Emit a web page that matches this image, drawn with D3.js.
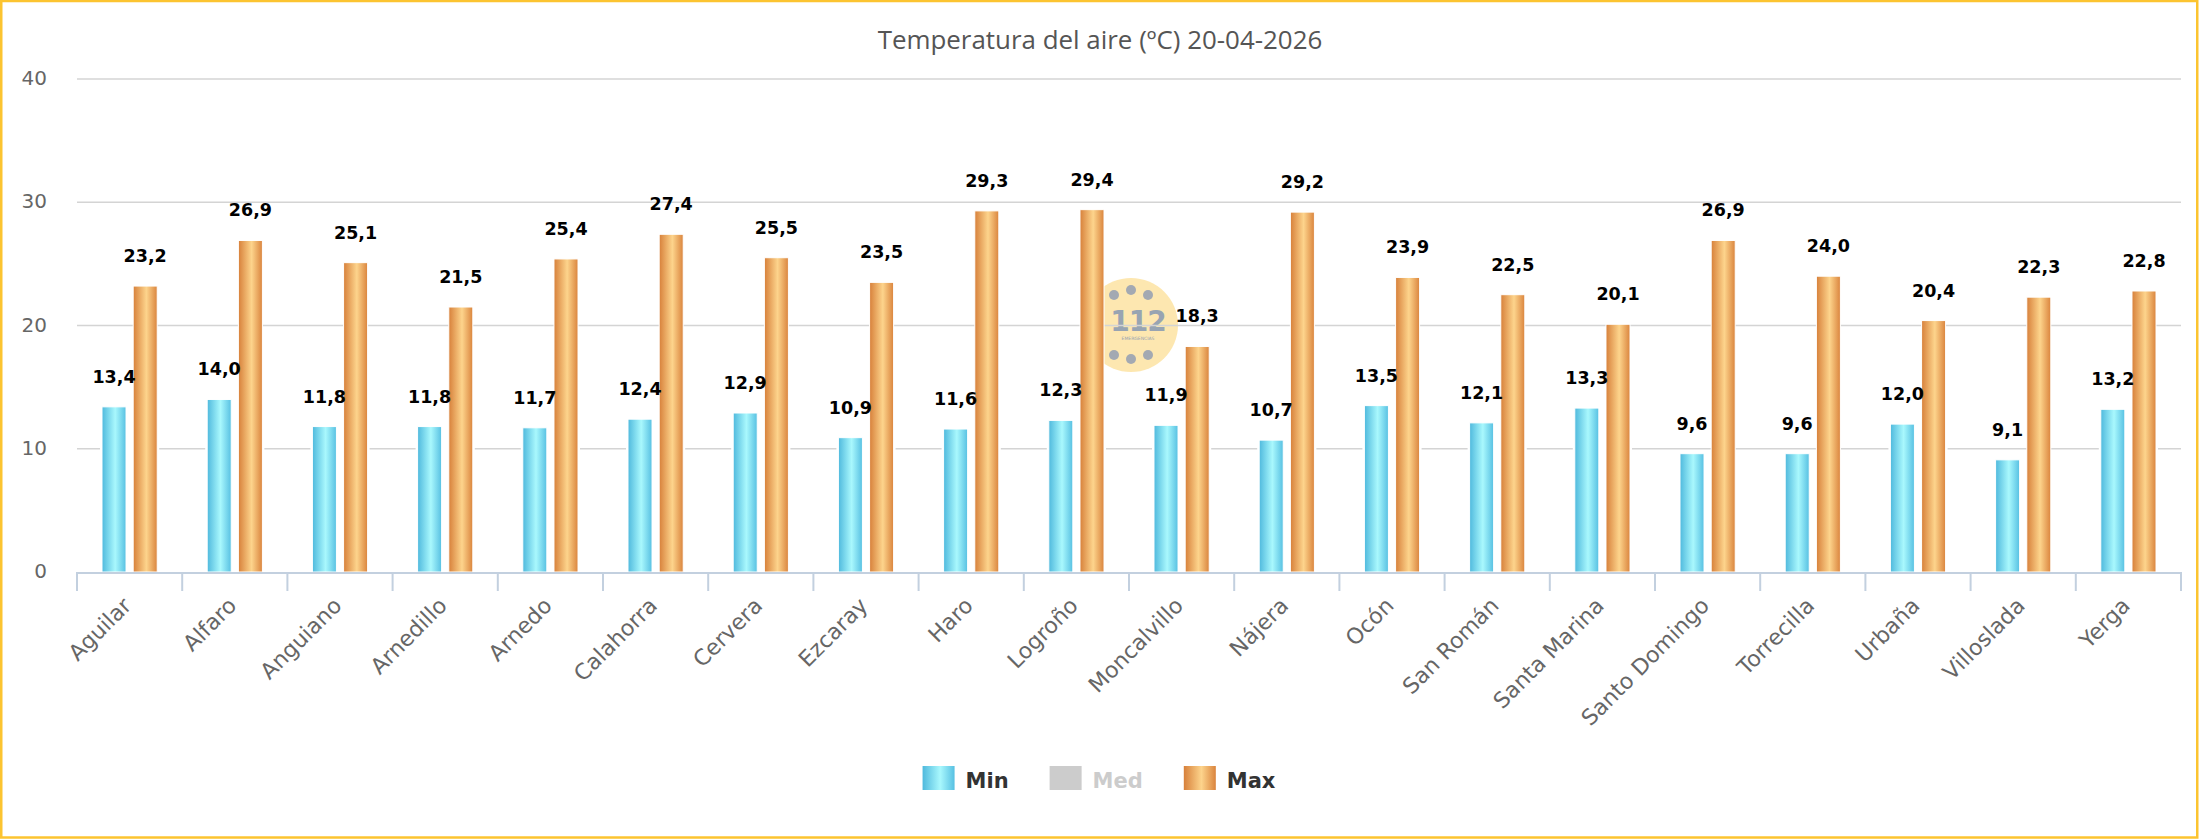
<!DOCTYPE html>
<html>
<head>
<meta charset="utf-8">
<script src="https://cdn.jsdelivr.net/npm/d3@7"></script>
<style>
  html, body { margin: 0; padding: 0; background: #fff; }
  svg { display: block; }
</style>
</head>
<body>
<svg id="chart" width="2200" height="840"></svg>
<script>
const title = "Temperatura del aire (ºC) 20-04-2026";
const categories = ["Aguilar","Alfaro","Anguiano","Arnedillo","Arnedo","Calahorra","Cervera","Ezcaray","Haro","Logroño","Moncalvillo","Nájera","Ocón","San Román","Santa Marina","Santo Domingo","Torrecilla","Urbaña","Villoslada","Yerga"];
const minValues = [13.4,14.0,11.8,11.8,11.7,12.4,12.9,10.9,11.6,12.3,11.9,10.7,13.5,12.1,13.3,9.6,9.6,12.0,9.1,13.2];
const maxValues = [23.2,26.9,25.1,21.5,25.4,27.4,25.5,23.5,29.3,29.4,18.3,29.2,23.9,22.5,20.1,26.9,24.0,20.4,22.3,22.8];
const yTicks = [0,10,20,30,40];
const legendItems = ["Min","Med","Max"];

const W = 2200, H = 840;
const plot = { left: 77, right: 2181, top: 79, bottom: 572 };
const svg = d3.select("#chart");
const fmt = v => v.toFixed(1).replace(".", ",");

// gradients
const defs = svg.append("defs");
function grad(id, stops) {
  const g = defs.append("linearGradient").attr("id", id).attr("x1","0%").attr("x2","100%").attr("y1","0%").attr("y2","0%");
  stops.forEach(s => g.append("stop").attr("offset", s[0]).attr("stop-color", s[1]));
}
grad("gMin", [["0%","#4fb9dd"],["55%","#a9f8fd"],["100%","#57c0e2"]]);
grad("gMax", [["0%","#d7803a"],["55%","#fdd48c"],["100%","#da843d"]]);

// border
svg.append("rect").attr("x",1.25).attr("y",1).attr("width",W-4).attr("height",H-3.5)
  .attr("fill","#fff").attr("stroke","#fcc430").attr("stroke-width",2.5);

// scales
const x = d3.scaleBand().domain(categories).range([plot.left, plot.right]).paddingInner(0).paddingOuter(0);
const bw = x.bandwidth();
const sub = d3.scaleBand().domain(["min","max"]).range([25, bw - 25]).paddingInner(0.23);
const y = d3.scaleLinear().domain([0,40]).range([plot.bottom, plot.top]);

// title
const tt = svg.append("text").attr("x", 1100).attr("y", 49).attr("text-anchor","middle")
  .attr("font-family","'Open Sans', sans-serif").attr("font-size", 24).attr("fill","#555")
  .text(title);
{
  const w = tt.node().getComputedTextLength();
  tt.attr("font-size", 24 * 445 / w);
}

// watermark (112 logo)
const wm = svg.append("g").attr("transform","translate(1131,325)");
wm.append("circle").attr("r",47).attr("fill","#fde3a2").attr("opacity",0.85);
[[-17,-30],[0,-35],[17,-30],[-17,30],[0,34],[17,30]].forEach(p =>
  wm.append("circle").attr("cx",p[0]).attr("cy",p[1]).attr("r",5).attr("fill","#a3a9b2"));
wm.append("text").attr("x",7).attr("y",6).attr("text-anchor","middle")
  .attr("font-family","'DejaVu Sans', sans-serif").attr("font-weight","bold").attr("font-size",28)
  .attr("fill","#98a4b2").attr("letter-spacing",-1).text("112");
wm.append("text").attr("x",7).attr("y",15).attr("text-anchor","middle")
  .attr("font-family","'DejaVu Sans', sans-serif").attr("font-size",4.5)
  .attr("fill","#98a4b2").text("EMERGENCIAS");

// gridlines
svg.append("g").selectAll("line").data(yTicks.filter(t => t > 0)).join("line")
  .attr("x1", plot.left).attr("x2", plot.right)
  .attr("y1", d => y(d)).attr("y2", d => y(d))
  .attr("stroke","#d4d4d4").attr("stroke-width",1.5);

// y labels
svg.append("g").selectAll("text").data(yTicks).join("text")
  .attr("x", 47).attr("y", d => y(d) + 6).attr("text-anchor","end")
  .attr("font-family","'DejaVu Sans', sans-serif").attr("font-size",20).attr("fill","#666")
  .text(d => d);

// data rows
const rows = categories.map((c,i) => ({ cat: c, min: minValues[i], max: maxValues[i] }));

// white backing behind bar pairs
svg.append("g").selectAll("rect").data(rows).join("rect")
  .attr("x", d => x(d.cat) + sub("min") - 2)
  .attr("width", sub("max") + sub.bandwidth() - sub("min") + 4)
  .attr("y", d => y(Math.min(d.min, d.max)) - 2)
  .attr("height", d => plot.bottom - y(Math.min(d.min, d.max)) + 2)
  .attr("fill","#fff");

const series = [["min","gMin",minValues],["max","gMax",maxValues]];
series.forEach(([key, g, vals]) => {
  const gg = svg.append("g");
  gg.selectAll("rect").data(rows).join("rect")
    .attr("x", d => x(d.cat) + sub(key))
    .attr("width", sub.bandwidth())
    .attr("y", d => y(d[key]))
    .attr("height", d => plot.bottom - y(d[key]))
    .attr("fill", `url(#${g})`)
    .attr("stroke","#fff").attr("stroke-width",1);
});

// axis line and ticks
const ax = svg.append("g");
ax.append("line").attr("x1", plot.left).attr("x2", plot.right).attr("y1", plot.bottom + 1).attr("y2", plot.bottom + 1)
  .attr("stroke","#c3d0df").attr("stroke-width",2);
const bounds = categories.map(c => x(c)).concat([plot.right]);
ax.selectAll("line.tick").data(bounds).join("line").attr("class","tick")
  .attr("x1", d => d).attr("x2", d => d).attr("y1", plot.bottom).attr("y2", plot.bottom + 19)
  .attr("stroke","#c3d0df").attr("stroke-width",2);

// x labels
svg.append("g").selectAll("text").data(categories).join("text")
  .attr("transform", d => `translate(${x(d) + bw/2 + 3},${plot.bottom + 35}) rotate(-45)`)
  .attr("text-anchor","end")
  .attr("font-family","'DejaVu Sans', sans-serif").attr("font-size",22).attr("fill","#666")
  .text(d => d);

// data labels
series.forEach(([key]) => {
  svg.append("g").selectAll("text").data(rows).join("text")
    .attr("x", d => x(d.cat) + sub(key) + sub.bandwidth()/2)
    .attr("y", d => y(d[key]) - 24)
    .attr("text-anchor","middle")
    .attr("font-family","'DejaVu Sans', sans-serif").attr("font-weight","bold").attr("font-size",17.5)
    .attr("fill","#000")
    .text(d => fmt(d[key]));
});

// legend
const lg = svg.append("g");
const fills = { Min: "url(#gMin)", Med: "#cccccc", Max: "url(#gMax)" };
const colors = { Min: "#333", Med: "#cccccc", Max: "#333" };
let cx = 0;
const items = legendItems.map(name => {
  const g = lg.append("g").attr("transform", `translate(${cx},0)`);
  g.append("rect").attr("x",0).attr("y",766).attr("width",32).attr("height",24).attr("fill", fills[name]);
  const t = g.append("text").attr("x",43).attr("y",788)
    .attr("font-family","'DejaVu Sans', sans-serif").attr("font-weight","bold").attr("font-size",21)
    .attr("fill", colors[name]).text(name);
  const w = 43 + t.node().getComputedTextLength();
  const start = cx;
  cx += w + 41;
  return { start, w };
});
const totalW = items[items.length-1].start + items[items.length-1].w;
lg.attr("transform", `translate(${1099 - totalW/2},0)`);
</script>
</body>
</html>
